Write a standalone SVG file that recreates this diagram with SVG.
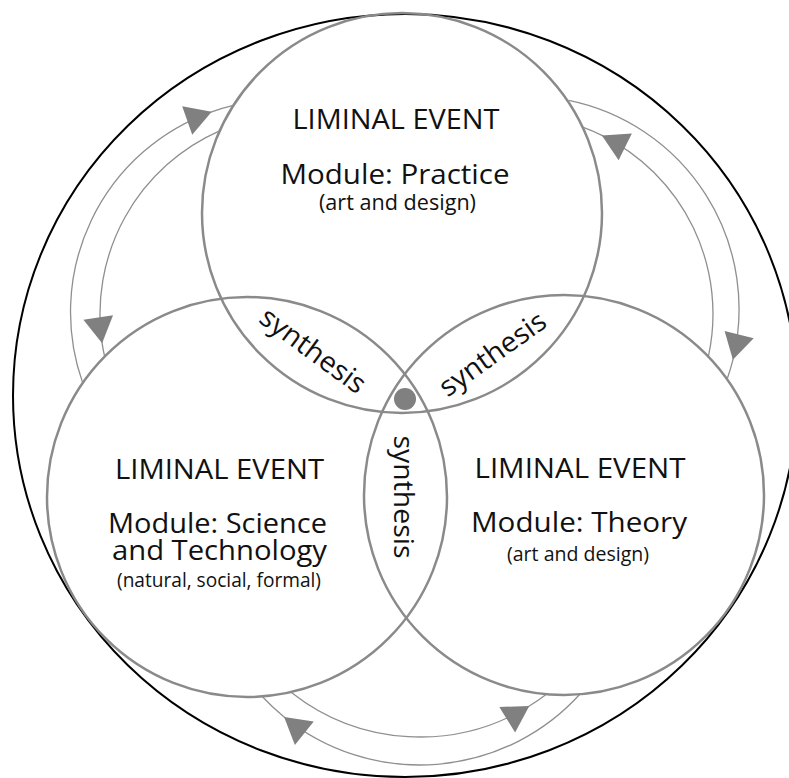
<svg xmlns="http://www.w3.org/2000/svg" width="789" height="778" viewBox="0 0 789 778">
  <style>
    .module { fill: none; stroke: #8a8a8a; stroke-width: 2.5; }
    .conn { fill: none; stroke: #8f8f8f; stroke-width: 1.3; marker-mid: url(#arrow); }
    .t { font-family: "Open Sans", "Noto Sans", "Liberation Sans", sans-serif; fill: #111; text-anchor: middle; }
    .title { font-size: 28px; }
    .mod { font-size: 28px; }
    .sub { font-size: 19.5px; }
    .syn { font-size: 28px; }
  </style>
  <defs>
    <marker id="arrow" markerUnits="userSpaceOnUse" viewBox="-28 -16 30 32" refX="0" refY="0" markerWidth="30" markerHeight="32" orient="auto" overflow="visible">
      <path d="M0,0 L-26,-15 L-26,15 Z" fill="#808080"/>
    </marker>
  </defs>

  <g id="frame">
    <ellipse cx="405" cy="395.5" rx="392" ry="381.5" fill="none" stroke="#000" stroke-width="2"/>
  </g>

  <g id="connectors">
    <path class="conn" d="M82.7,382.9 A212.5,212.5 0 0 1 211.7,111.8 A212.5,212.5 0 0 1 233.4,105.4"/>
    <path class="conn" d="M219.6,130.9 A200,200 0 0 0 102.1,343.2 A200,200 0 0 0 104.7,356.9"/>
    <path class="conn" d="M568.8,100.3 A213,213 0 0 1 732.9,359.8 A213,213 0 0 1 727.4,378.3"/>
    <path class="conn" d="M708.4,356.4 A199,199 0 0 0 601.9,135.4 A199,199 0 0 0 582.7,127.2"/>
    <path class="conn" d="M291.4,692.4 A208,208 0 0 0 529.3,706 A208,208 0 0 0 546,694.4"/>
    <path class="conn" d="M580.5,693.5 A216,216 0 0 1 284.1,716.9 A216,216 0 0 1 261.5,695.8"/>
  </g>

  <g id="practice">
    <circle class="module" cx="402" cy="213" r="200"/>
    <text class="t title" x="396" y="128.5" textLength="207" lengthAdjust="spacingAndGlyphs">LIMINAL EVENT</text>
    <text class="t mod" x="395" y="183.5" textLength="229" lengthAdjust="spacingAndGlyphs">Module: Practice</text>
    <text class="t sub" x="397.5" y="210" font-size="21" textLength="157" lengthAdjust="spacingAndGlyphs" style="font-size:21px">(art and design)</text>
  </g>

  <g id="science">
    <circle class="module" cx="247" cy="497" r="200"/>
    <text class="t title" x="219.5" y="478.5" textLength="209" lengthAdjust="spacingAndGlyphs">LIMINAL EVENT</text>
    <text class="t mod" x="217.5" y="532.5" textLength="219" lengthAdjust="spacingAndGlyphs">Module: Science</text>
    <text class="t mod" x="219.5" y="559.5" textLength="215" lengthAdjust="spacingAndGlyphs">and Technology</text>
    <text class="t sub" x="219" y="586.5" textLength="204" lengthAdjust="spacingAndGlyphs">(natural, social, formal)</text>
  </g>

  <g id="theory">
    <circle class="module" cx="564" cy="495" r="200"/>
    <text class="t title" x="580" y="477.5" textLength="211" lengthAdjust="spacingAndGlyphs">LIMINAL EVENT</text>
    <text class="t mod" x="579" y="532" textLength="216" lengthAdjust="spacingAndGlyphs">Module: Theory</text>
    <text class="t sub" x="578" y="561" textLength="142" lengthAdjust="spacingAndGlyphs">(art and design)</text>
  </g>

  <g id="synthesis-practice-science">
    <text class="t syn" transform="translate(311.5,352.5) rotate(36.4)" x="0" y="7" textLength="124" lengthAdjust="spacingAndGlyphs">synthesis</text>
  </g>
  <g id="synthesis-practice-theory">
    <text class="t syn" transform="translate(494,356) rotate(-35.5)" x="0" y="7" textLength="124" lengthAdjust="spacingAndGlyphs">synthesis</text>
  </g>
  <g id="synthesis-science-theory">
    <text class="t syn" transform="translate(401,497) rotate(90)" x="0" y="7" textLength="123" lengthAdjust="spacingAndGlyphs">synthesis</text>
  </g>

  <g id="center">
    <circle cx="405" cy="399" r="11" fill="#808080"/>
  </g>
</svg>
